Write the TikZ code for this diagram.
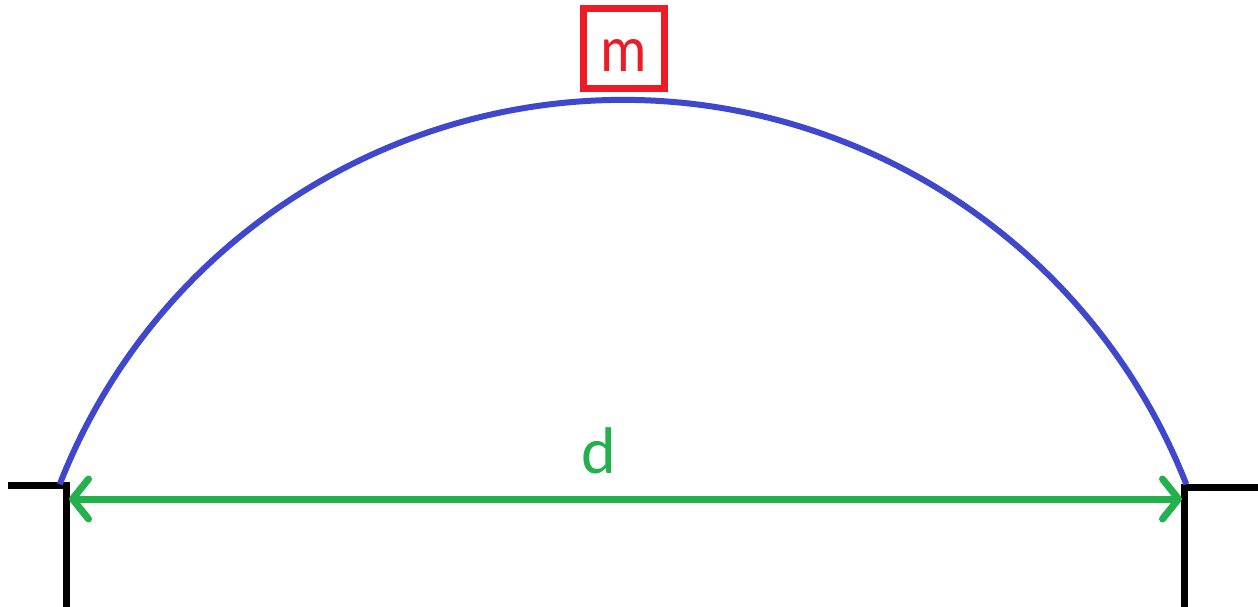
\documentclass[tikz,border=0pt]{standalone}
\usepackage{fontspec}
\newfontfamily\lblfont{Carlito}
\usetikzlibrary{arrows.meta}
\definecolor{paintblue}{HTML}{3F48CC}
\definecolor{paintred}{HTML}{ED1C24}
\definecolor{paintgreen}{HTML}{22B14C}
\tikzset{
  wall/.style={draw=black, line width=7pt, line join=miter},
  trajectory/.style={draw=paintblue, line width=6pt},
  massbox/.style={draw=paintred, line width=7pt, minimum width=80.5pt, minimum height=80pt,
    inner sep=0pt, text=paintred, font=\lblfont\fontsize{66}{66}\selectfont,
    text height=46pt, text depth=0pt},
  dimarrow/.style={draw=paintgreen, line width=7pt, line cap=round,
    {Straight Barb[length=16pt,width=40pt,round]}-{Straight Barb[length=16pt,width=40pt,round]}},
  dimlabel/.style={text=paintgreen, font=\lblfont\fontsize{66}{66}\selectfont, inner sep=0pt, anchor=base}
}
\begin{document}
\begin{tikzpicture}[x=1pt,y=1pt]
\useasboundingbox (0,0) rectangle (1258,606);
% walls
\coordinate (lwallTop) at (8,121);
\coordinate (lcorner) at (66,121);
\coordinate (lwallBot) at (66,-5);
\coordinate (rwallTop) at (1263,119);
\coordinate (rcorner) at (1184,119);
\coordinate (rwallBot) at (1184,-5);
\draw[wall] (lwallTop) -- (lcorner) -- (lwallBot);
\draw[wall] (rwallTop) -- (rcorner) -- (rwallBot);
% trajectory arc (circle centre (623,-99), radius 605)
\draw[trajectory] (623,-99) ++(158.6:605) arc[start angle=158.6, end angle=21.4, radius=605];
% mass
\node[massbox] (mass) at (623.75,557.5) {\scalebox{0.88}[1]{m}};
% span arrow
\coordinate (aL) at (69,107);
\coordinate (aR) at (1182,107);
\draw[dimarrow] (aL) -- (aR);
\node[dimlabel] (dlab) at (599,133) {d};
\end{tikzpicture}
\end{document}
